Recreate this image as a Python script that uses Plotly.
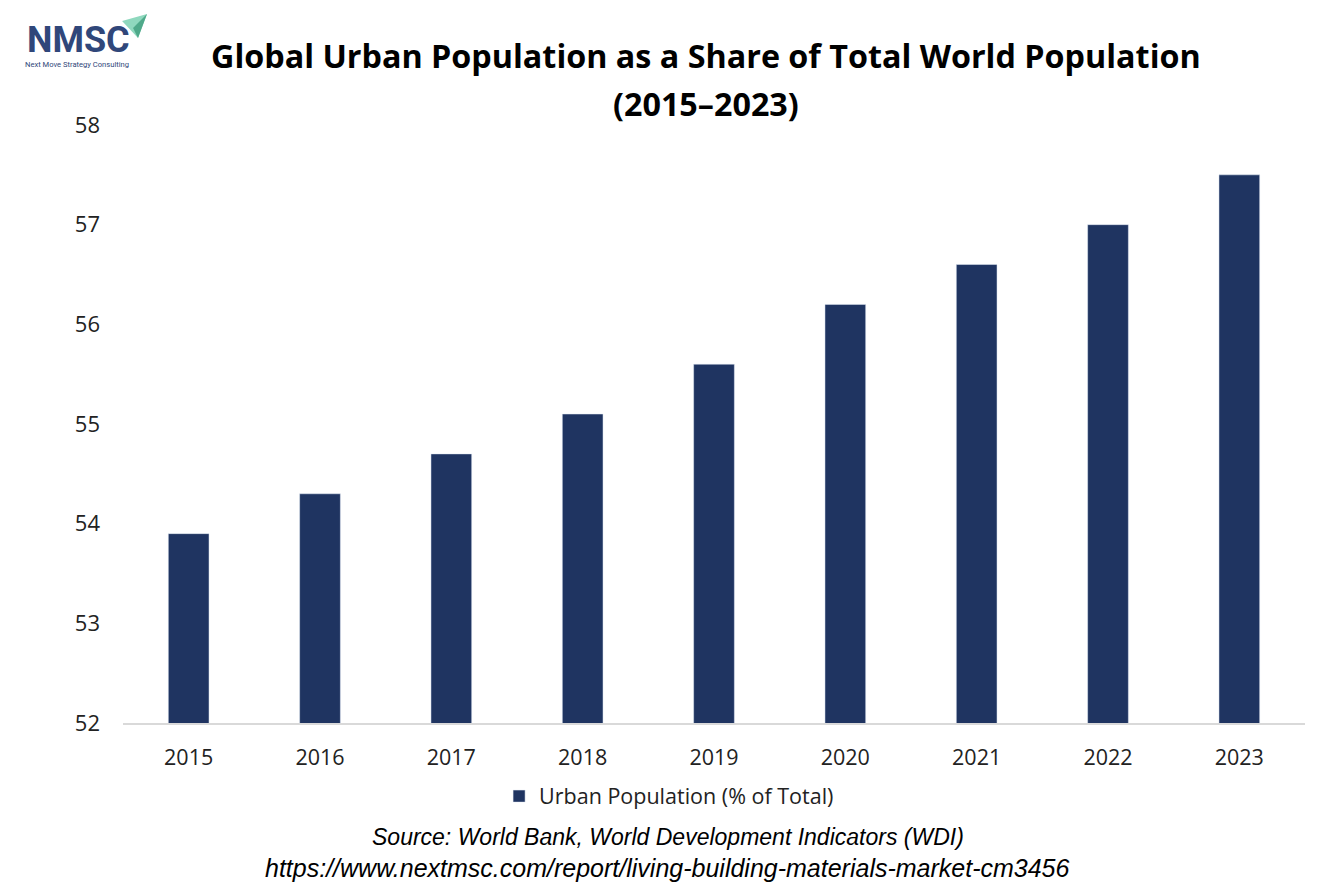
import plotly.graph_objects as go

# data
years = ["2015", "2016", "2017", "2018", "2019", "2020", "2021", "2022", "2023"]
urban_share = [53.9, 54.3, 54.7, 55.1, 55.6, 56.2, 56.6, 57.0, 57.5]
y_ticks = [52, 53, 54, 55, 56, 57, 58]

bar_color = "#1F3461"
font_main = "Open Sans"

fig = go.Figure(data=[
    go.Bar(
        x=years,
        y=urban_share,
        name="Urban Population (% of Total)",
        marker_color=bar_color,
        showlegend=True,
    )
])

fig.update_layout(
    width=1334,
    height=889,
    paper_bgcolor="white",
    plot_bgcolor="white",
    margin=dict(l=115, r=37, t=117, b=174),
    bargap=0.69,
    font=dict(family=font_main, color="#222222", size=20),
    legend=dict(
        orientation="h",
        x=0.462, xanchor="center",
        y=-0.088, yanchor="top",
        font=dict(size=21.5, color="#222222"),
    ),
)

fig.update_xaxes(
    showline=True, linecolor="#D9D9D9", linewidth=2,
    showgrid=False, ticks="", ticklabelstandoff=14,
    tickfont=dict(size=21.5, color="#222222"),
)
fig.update_yaxes(
    range=[52, 58], tickvals=y_ticks,
    showgrid=False, zeroline=False, showline=False,
    ticks="", ticklabelstandoff=22,
    tickfont=dict(size=22, color="#222222"),
)

# title, two lines
title_lines = ["Global Urban Population as a Share of Total World Population", "(2015–2023)"]
for txt, ty in zip(title_lines, [1.1171, 1.0368]):
    fig.add_annotation(
        text="<b>" + txt + "</b>", xref="paper", yref="paper",
        x=0.4932, y=ty, xanchor="center", yanchor="middle", showarrow=False,
        font=dict(family=font_main, size=32.3, color="black"),
    )

# source lines
source_lines = [
    "Source: World Bank, World Development Indicators (WDI)",
    "https://www.nextmsc.com/report/living-building-materials-market-cm3456",
]
for txt, sy, fs in zip(source_lines, [-0.190, -0.242], [23, 25]):
    fig.add_annotation(
        text="<i>" + txt + "</i>",
        xref="paper", yref="paper", x=0.461, y=sy,
        showarrow=False, xanchor="center", yanchor="middle",
        font=dict(family="Liberation Sans", size=fs, color="black"),
    )

# logo
fig.add_annotation(
    text="<b>NMSC</b>", xref="paper", yref="paper",
    x=-0.0829, y=1.1420, xanchor="left", yanchor="middle", showarrow=False,
    font=dict(family="Roboto", size=36, color="#30477A"),
)
fig.add_annotation(
    text="Next Move Strategy Consulting", xref="paper", yref="paper",
    x=-0.085, y=1.1010, xanchor="left", yanchor="middle", showarrow=False,
    font=dict(family="Roboto", size=7.6, color="#30477A"),
)
fig.add_shape(
    type="path", xref="paper", yref="paper",
    path="M -0.0008 1.1739 L 0.0203 1.1856 L 0.0127 1.1455 Z",
    fillcolor="#8FD8BE", line=dict(width=0),
)
fig.add_shape(
    type="path", xref="paper", yref="paper",
    path="M 0.0085 1.1622 L 0.0203 1.1856 L 0.0127 1.1455 Z",
    fillcolor="#4FA98A", line=dict(width=0),
)

fig.write_html("out.html")
